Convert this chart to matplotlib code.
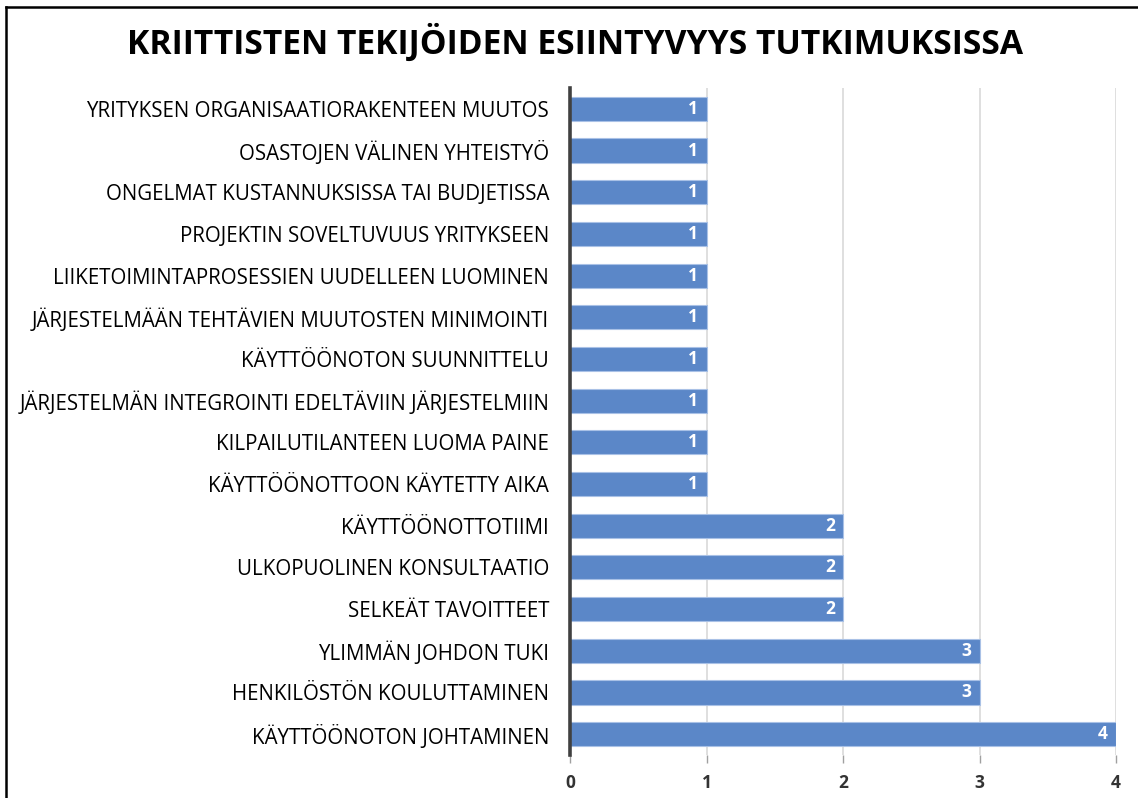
import matplotlib
matplotlib.use("Agg")
import matplotlib.pyplot as plt
from matplotlib.lines import Line2D

categories = [
    "YRITYKSEN ORGANISAATIORAKENTEEN MUUTOS",
    "OSASTOJEN VÄLINEN YHTEISTYÖ",
    "ONGELMAT KUSTANNUKSISSA TAI BUDJETISSA",
    "PROJEKTIN SOVELTUVUUS YRITYKSEEN",
    "LIIKETOIMINTAPROSESSIEN UUDELLEEN LUOMINEN",
    "JÄRJESTELMÄÄN TEHTÄVIEN MUUTOSTEN MINIMOINTI",
    "KÄYTTÖÖNOTON SUUNNITTELU",
    "JÄRJESTELMÄN INTEGROINTI EDELTÄVIIN JÄRJESTELMIIN",
    "KILPAILUTILANTEEN LUOMA PAINE",
    "KÄYTTÖÖNOTTOON KÄYTETTY AIKA",
    "KÄYTTÖÖNOTTOTIIMI",
    "ULKOPUOLINEN KONSULTAATIO",
    "SELKEÄT TAVOITTEET",
    "YLIMMÄN JOHDON TUKI",
    "HENKILÖSTÖN KOULUTTAMINEN",
    "KÄYTTÖÖNOTON JOHTAMINEN",
]
values = [1, 1, 1, 1, 1, 1, 1, 1, 1, 1, 2, 2, 2, 3, 3, 4]
xticks = [0, 1, 2, 3, 4]
title = "KRIITTISTEN TEKIJÖIDEN ESIINTYVYYS TUTKIMUKSISSA"

plt.rcParams['font.family'] = ['Open Sans', 'DejaVu Sans']

fig = plt.figure(figsize=(11.38, 7.98), dpi=100)
ax = fig.add_axes([570/1138, 1-755/798, (1116-570)/1138, (755-88)/798])

n = len(categories)
ypos = list(range(n - 1, -1, -1))
ax.barh(ypos, values, height=0.58, color="#5B87C8",
        edgecolor="#A9C1E6", linewidth=0.8, zorder=3)

for y, v in zip(ypos, values):
    ax.text(v - 0.06, y, str(v), ha="right", va="center", color="white",
            fontsize=12.5, fontweight="bold", zorder=4)

ax.set_ylim(-0.5, n - 0.5)
ax.set_xlim(0, 4)
ax.set_yticks(ypos)
ax.set_yticklabels(categories, fontsize=14.8)
ax.set_xticks(xticks)
ax.set_xticklabels([str(t) for t in xticks], fontsize=12.5, fontweight="bold",
                   color="#333333")
ax.tick_params(axis="y", length=0, pad=15)
ax.tick_params(axis="x", length=6, width=1, color="#A0A0A0", pad=8)

ax.grid(axis="x", color="#D9D9D9", linewidth=1.2, zorder=0)
ax.set_axisbelow(True)
for s in ["top", "right", "bottom"]:
    ax.spines[s].set_visible(False)
ax.spines["left"].set_color("#404040")
ax.spines["left"].set_linewidth(2.6)
ax.spines["left"].set_zorder(5)

fig.text(575/1138, 1-43/798, title, ha="center", va="center",
         fontsize=24.2, fontweight="bold", color="black")

fig.add_artist(Line2D([6/1138, 6/1138], [0, 1-7/798], transform=fig.transFigure,
                      color="black", linewidth=1.8))
fig.add_artist(Line2D([6/1138, 1], [1-7/798, 1-7/798], transform=fig.transFigure,
                      color="black", linewidth=1.8))

fig.savefig("out.png", dpi=100)
